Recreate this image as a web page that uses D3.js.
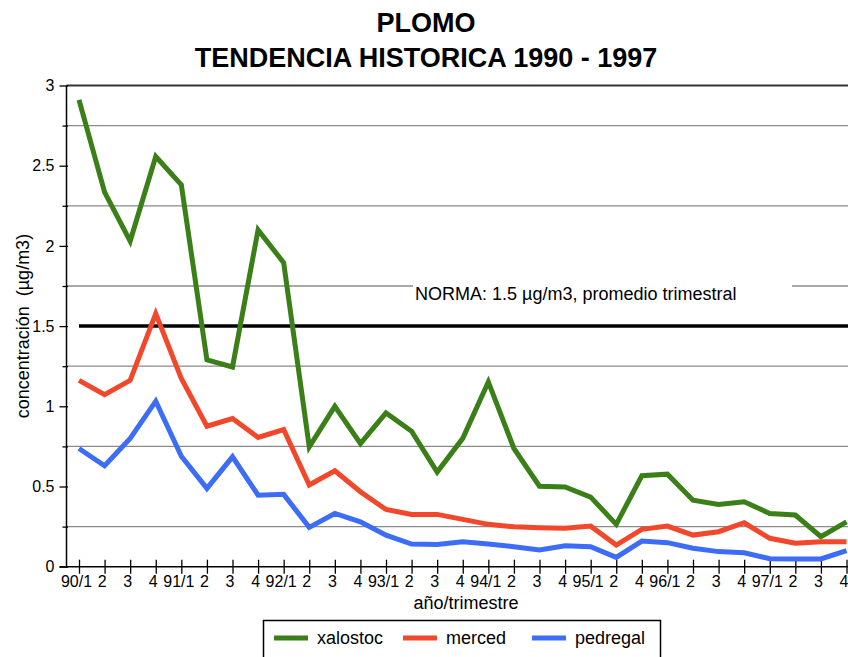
<!DOCTYPE html>
<html>
<head>
<meta charset="utf-8">
<script src="https://cdn.jsdelivr.net/npm/d3@7"></script>
<style>
  body { margin: 0; background: #fff; }
  svg { display: block; font-family: "Liberation Sans", Arial, sans-serif; }
</style>
</head>
<body>
<svg id="chart" width="848" height="657"></svg>
<script>
// quarter labels (95/3 is missing in the source data)
const quarterLabels = ["90/1","2","3","4","91/1","2","3","4","92/1","2","3","4",
  "93/1","2","3","4","94/1","2","3","4","95/1","2","4","96/1","2","3","4",
  "97/1","2","3","4"];

const xalostoc = [2.91,2.335,2.03,2.557,2.38,1.29,1.245,2.10,1.895,0.747,
  1.00,0.768,0.959,0.845,0.59,0.80,1.152,0.737,0.502,0.497,
  0.434,0.264,0.567,0.577,0.415,0.388,0.405,0.332,0.322,0.187,0.28];
const merced = [1.162,1.073,1.162,1.578,1.173,0.876,0.924,0.806,0.855,0.509,
  0.598,0.467,0.357,0.326,0.326,0.295,0.264,0.249,0.243,0.239,
  0.253,0.135,0.233,0.253,0.197,0.218,0.274,0.177,0.146,0.156,0.156];
const pedregal = [0.737,0.629,0.80,1.032,0.689,0.488,0.685,0.446,0.451,0.245,
  0.332,0.28,0.197,0.141,0.139,0.156,0.141,0.125,0.104,0.131,
  0.125,0.058,0.16,0.15,0.115,0.094,0.087,0.05,0.048,0.048,0.1];

const seriesNames = ["xalostoc", "merced", "pedregal"];
const seriesColors = ["#3b7f18", "#f2472a", "#3d6cf6"];
const norma = 1.5;
const yTicks = d3.range(0, 3.01, 0.25);

const svg = d3.select("#chart");

const x = d3.scaleLinear().domain([0, quarterLabels.length - 1]).range([79, 846.5]);
const y = d3.scaleLinear().domain([0, 3]).range([566.7, 85.5]);
const axisX = 66.5;

// title
svg.append("text").attr("x", 426).attr("y", 32).attr("text-anchor", "middle")
  .style("font-size", "27px").style("font-weight", "bold").text("PLOMO");
svg.append("text").attr("x", 426).attr("y", 67).attr("text-anchor", "middle")
  .style("font-size", "27px").style("font-weight", "bold").text("TENDENCIA HISTORICA 1990 - 1997");

// gridlines at odd quarters, dark line at top
svg.append("g").selectAll("line")
  .data(yTicks.filter(v => Math.round(v * 4) % 2 === 1))
  .enter().append("line")
  .attr("x1", axisX).attr("x2", 848)
  .attr("y1", d => y(d)).attr("y2", d => y(d))
  .style("stroke", "#8a8a8a").style("stroke-width", 1.3);

svg.append("line").attr("x1", axisX).attr("x2", 848)
  .attr("y1", y(3)).attr("y2", y(3))
  .style("stroke", "#333").style("stroke-width", 2);

// y axis
const yAxis = d3.axisLeft(y).tickValues(yTicks).tickSize(7).tickPadding(5)
  .tickFormat(d => (Math.round(d * 4) % 2 === 0) ? d3.format("~g")(d) : "");
const gy = svg.append("g").attr("transform", `translate(${axisX},0)`).call(yAxis);
gy.select(".domain").remove();
gy.append("line").attr("x1", 0).attr("x2", 0).attr("y1", y(3)).attr("y2", y(0) + 1)
  .style("stroke", "#000").style("stroke-width", 1.5);
gy.selectAll(".tick line").style("stroke", "#000").style("stroke-width", 1.3)
  .attr("x2", d => (Math.round(d * 4) % 2 === 0) ? -7 : -4).attr("x1", 1.5);
gy.selectAll(".tick text").style("font-size", "16px").style("fill", "#000")
  .style("font-family", "'Liberation Sans', Arial, sans-serif");

// x axis
const xAxis = d3.axisBottom(x).tickValues(d3.range(quarterLabels.length))
  .tickSize(7).tickPadding(2).tickFormat(i => quarterLabels[i]);
const gx = svg.append("g").attr("transform", `translate(0,${y(0)})`).call(xAxis);
gx.select(".domain").remove();
gx.append("line").attr("x1", axisX - 7).attr("x2", 848).attr("y1", 0).attr("y2", 0)
  .style("stroke", "#000").style("stroke-width", 1.5);
gx.selectAll(".tick line").attr("y1", -7).style("stroke", "#000").style("stroke-width", 1.3);
gx.selectAll(".tick text").style("font-size", "16px").style("fill", "#000")
  .style("font-family", "'Liberation Sans', Arial, sans-serif")
  .attr("dx", "-3px");

// axis titles
svg.append("text").attr("x", 466).attr("y", 609).attr("text-anchor", "middle")
  .style("font-size", "18px").text("año/trimestre");
svg.append("text").attr("transform", `translate(29,${y(1.5)}) rotate(-90)`)
  .attr("text-anchor", "middle").style("font-size", "18px")
  .style("white-space", "pre")
  .text("concentración  (µg/m3)");

// norma label with white background over the gridline
svg.append("rect").attr("x", 413).attr("y", 280).attr("width", 379).attr("height", 20)
  .style("fill", "#fff");
svg.append("text").attr("x", 415).attr("y", 300).style("font-size", "18px")
  .text("NORMA: 1.5 µg/m3, promedio trimestral");

svg.append("line").attr("x1", x(0)).attr("x2", 848)
  .attr("y1", y(norma)).attr("y2", y(norma))
  .style("stroke", "#000").style("stroke-width", 3.5);

// series lines
const line = d3.line().x((d, i) => x(i)).y(d => y(d));
[xalostoc, merced, pedregal].forEach((values, k) => {
  svg.append("path").datum(values).attr("d", line)
    .style("fill", "none").style("stroke", seriesColors[k])
    .style("stroke-width", 5).style("stroke-linejoin", "miter");
});

// legend
svg.append("rect").attr("x", 263.5).attr("y", 620.5).attr("width", 397).attr("height", 50)
  .style("fill", "#fff").style("stroke", "#000").style("stroke-width", 1.5);
const legendX = [274, 403, 532];
seriesNames.forEach((name, k) => {
  svg.append("line").attr("x1", legendX[k]).attr("x2", legendX[k] + 34)
    .attr("y1", 638).attr("y2", 638)
    .style("stroke", seriesColors[k]).style("stroke-width", 5);
  svg.append("text").attr("x", legendX[k] + 43).attr("y", 644)
    .style("font-size", "18px").text(name);
});
</script>
</body>
</html>
